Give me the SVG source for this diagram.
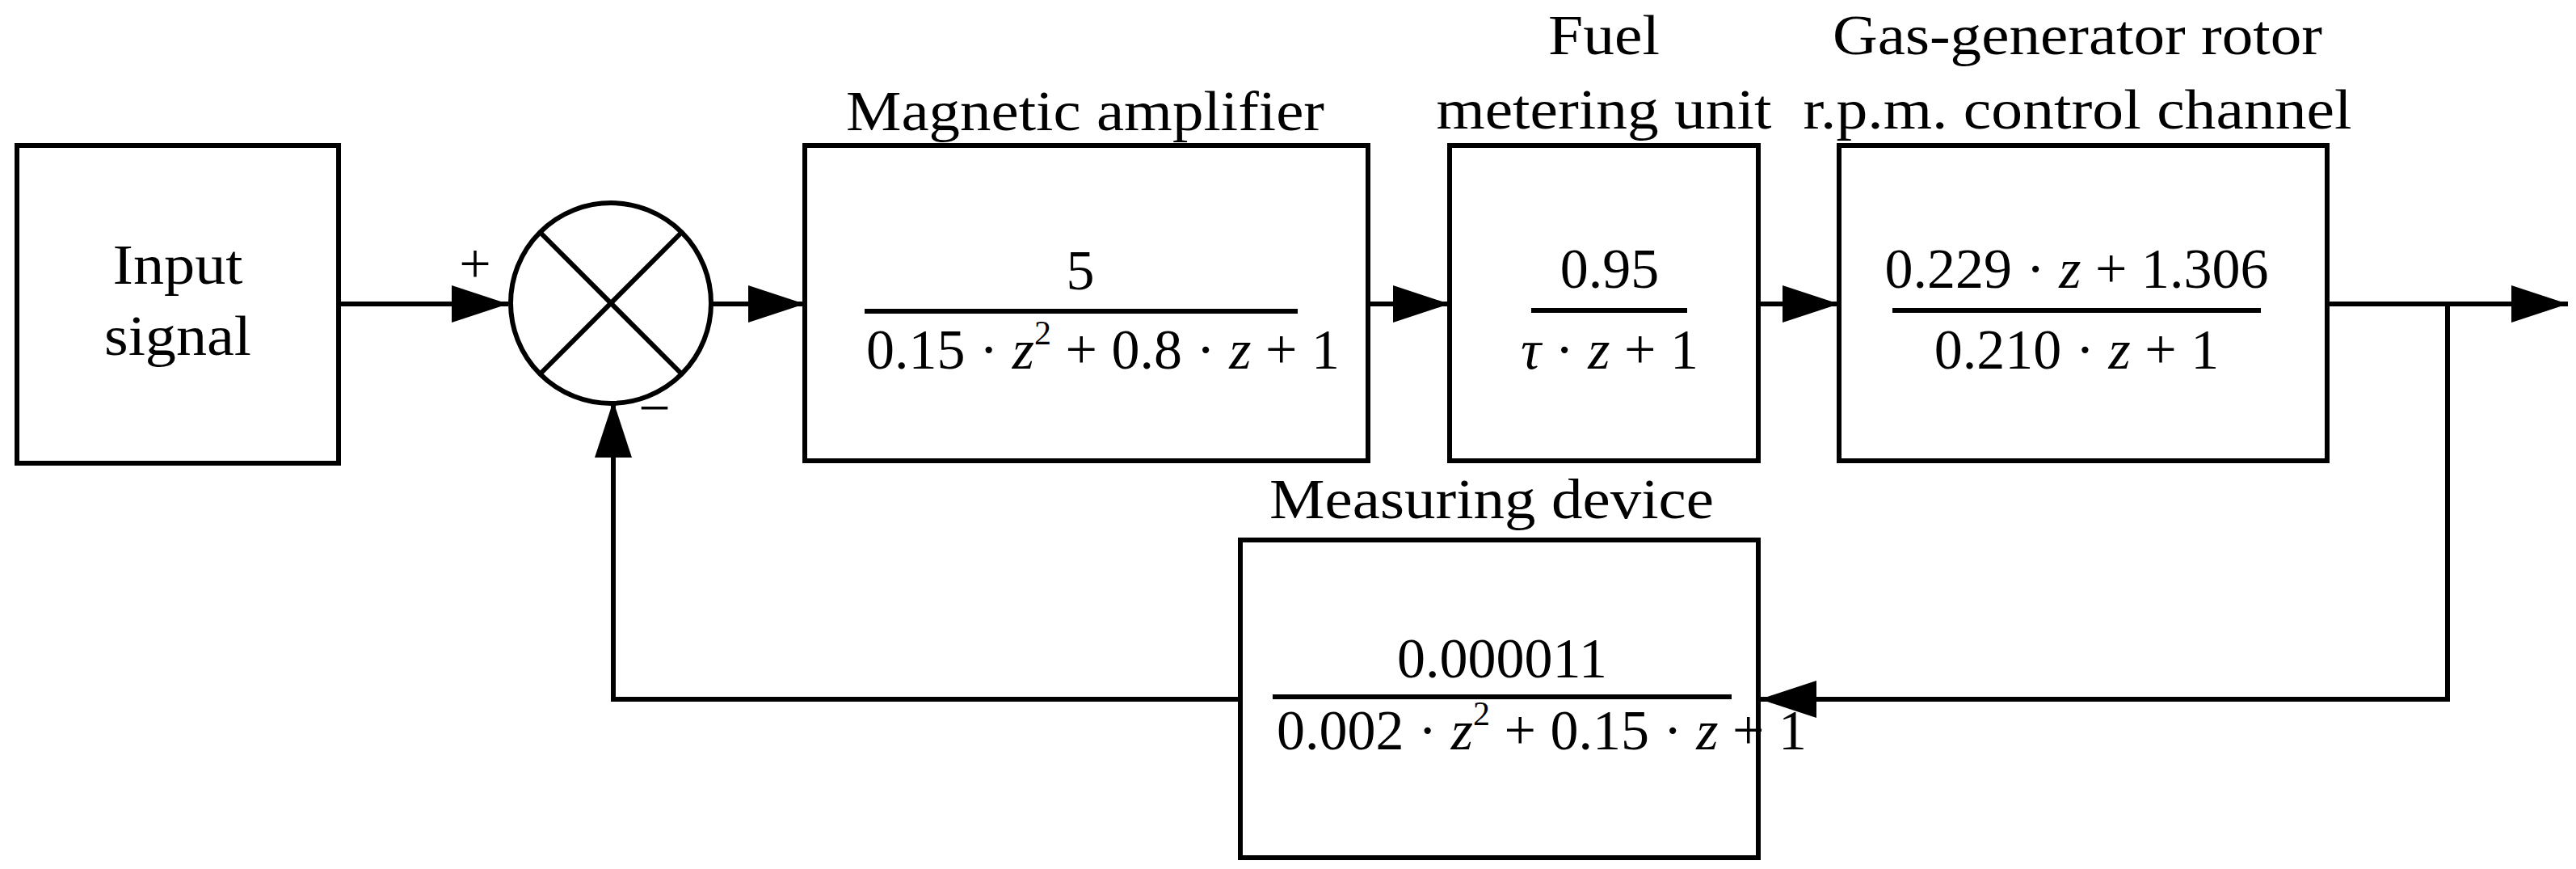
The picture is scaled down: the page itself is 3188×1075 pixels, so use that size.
<svg xmlns="http://www.w3.org/2000/svg" width="3188" height="1075" viewBox="0 0 3188 1075">
<style>
.b{fill:none;stroke:#000;stroke-width:6}
.l{fill:none;stroke:#000;stroke-width:6}
text{font-family:"Liberation Serif","Times New Roman",serif;font-size:70px;fill:#000}
.m{text-anchor:middle}
.i{font-style:italic}
.s{font-size:42px}
</style>
<defs>
<marker id="a" markerUnits="userSpaceOnUse" markerWidth="70" markerHeight="46" refX="70" refY="23" orient="auto"><path d="M0,0L70,23L0,46Z" fill="#000"/></marker>
</defs>
<rect width="3188" height="1075" fill="#fff"/>
<g id="input"><rect class="b" x="21" y="180" width="398" height="393"/>
<text class="m" x="220" y="351" textLength="161" lengthAdjust="spacingAndGlyphs">Input</text>
<text class="m" x="220" y="439" textLength="182" lengthAdjust="spacingAndGlyphs">signal</text></g>
<g id="sum"><circle class="b" cx="756" cy="375" r="124"/>
<line class="l" x1="668" y1="287" x2="844" y2="463"/><line class="l" x1="844" y1="287" x2="668" y2="463"/>
<text class="m" x="588" y="350">+</text><text class="m" x="810" y="528">−</text></g>
<g id="mag"><rect class="b" x="996" y="180" width="697" height="390"/>
<text class="m" x="1343" y="161" textLength="592" lengthAdjust="spacingAndGlyphs">Magnetic amplifier</text>
<text class="m" x="1337" y="358">5</text>
<line class="l" x1="1070" y1="385" x2="1606" y2="385"/>
<text x="1072" y="456">0.15 · <tspan class="i">z</tspan><tspan class="s" dy="-30">2</tspan><tspan dy="30"> + 0.8 · </tspan><tspan class="i">z</tspan> + 1</text></g>
<g id="fuel"><rect class="b" x="1794" y="180" width="382" height="390"/>
<text class="m" x="1985" y="67" textLength="138" lengthAdjust="spacingAndGlyphs">Fuel</text>
<text class="m" x="1985" y="159" textLength="415" lengthAdjust="spacingAndGlyphs">metering unit</text>
<text class="m" x="1992" y="356">0.95</text>
<line class="l" x1="1895" y1="384" x2="2088" y2="384"/>
<text class="m" x="1992" y="456"><tspan class="i">τ</tspan> · <tspan class="i">z</tspan> + 1</text></g>
<g id="gas"><rect class="b" x="2276" y="180" width="604" height="390"/>
<text class="m" x="2571" y="67" textLength="606" lengthAdjust="spacingAndGlyphs">Gas-generator rotor</text>
<text class="m" x="2571" y="159" textLength="679" lengthAdjust="spacingAndGlyphs">r.p.m. control channel</text>
<text class="m" x="2570" y="356">0.229 · <tspan class="i">z</tspan> + 1.306</text>
<line class="l" x1="2342" y1="384" x2="2798" y2="384"/>
<text class="m" x="2570" y="456">0.210 · <tspan class="i">z</tspan> + 1</text></g>
<g id="meas"><rect class="b" x="1535" y="668" width="641" height="393"/>
<text class="m" x="1846" y="641" textLength="550" lengthAdjust="spacingAndGlyphs">Measuring device</text>
<text class="m" x="1859" y="838">0.000011</text>
<line class="l" x1="1575" y1="862" x2="2143" y2="862"/>
<text x="1580" y="927">0.002 · <tspan class="i">z</tspan><tspan class="s" dy="-30">2</tspan><tspan dy="30"> + 0.15 · </tspan><tspan class="i">z</tspan> + 1</text></g>
<g id="connectors">
<line class="l" x1="419" y1="376" x2="629" y2="376" marker-end="url(#a)"/>
<line class="l" x1="880" y1="376" x2="996" y2="376" marker-end="url(#a)"/>
<line class="l" x1="1693" y1="376" x2="1794" y2="376" marker-end="url(#a)"/>
<line class="l" x1="2176" y1="376" x2="2276" y2="376" marker-end="url(#a)"/>
<line class="l" x1="2880" y1="376" x2="3178" y2="376" marker-end="url(#a)"/>
<polyline class="l" points="3029,376 3029,865 2178,865" marker-end="url(#a)"/>
<polyline class="l" points="1535,865 759,865 759,496" marker-end="url(#a)"/>
</g>
</svg>
